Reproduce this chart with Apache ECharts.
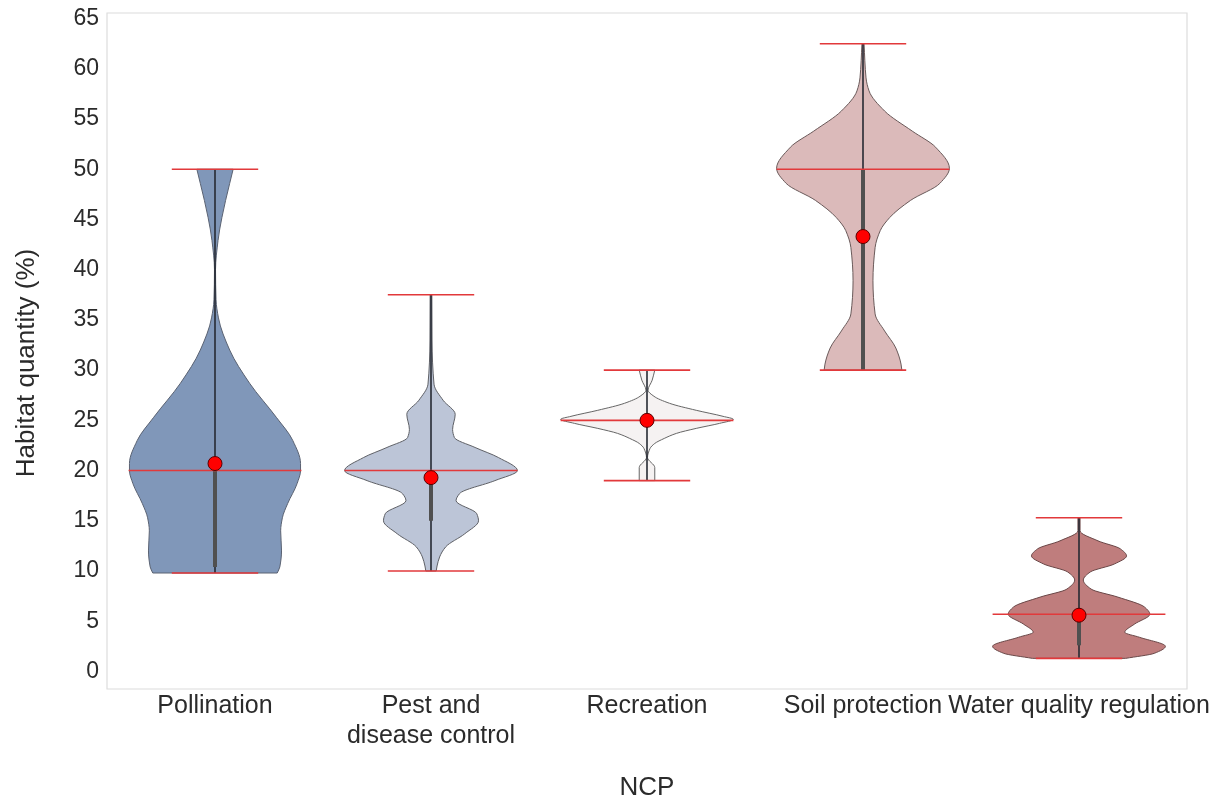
<!DOCTYPE html>
<html><head><meta charset="utf-8">
<script src="https://cdn.jsdelivr.net/npm/echarts@6/dist/echarts.min.js"></script>
<style>html,body{margin:0;padding:0;background:#fff}#c{width:1220px;height:800px}</style>
</head><body><div id="c"></div>
<script>
// ---- data ----
const categories = ['Pollination', 'Pest and\ndisease control', 'Recreation', 'Soil protection', 'Water quality regulation'];
const yTickLabels = [0, 5, 10, 15, 20, 25, 30, 35, 40, 45, 50, 55, 60, 65];

// density profiles: [value, relative half-width (1 = widest)]
const pollinationProfile = [[9.8,0.72],[10.4,0.75],[12,0.77],[14,0.76],[15.3,0.78],[16.7,0.84],[18.7,0.95],[20,0.99],[20.7,0.99],[23,0.9],[25.3,0.71],[28.7,0.4],[32,0.17],[35.2,0.04],[37,0.012],[40,0.006],[42.9,0.035],[45.2,0.08],[48.6,0.17],[50,0.21]];
const pestProfile = [[10,0.06],[10.5,0.07],[11.4,0.1],[12.4,0.17],[13.7,0.39],[15,0.55],[15.7,0.53],[17,0.29],[17.7,0.33],[19,0.74],[20,1.0],[21.3,0.78],[22.3,0.51],[23.3,0.27],[24.1,0.25],[25.6,0.28],[27,0.14],[28.6,0.035],[33,0.012],[37.5,0.01]];
const recreationProfile = [[19,0.09],[20.3,0.09],[21.3,0.006],[22.2,0.035],[22.7,0.09],[23.2,0.2],[23.7,0.34],[24.2,0.57],[24.7,0.84],[25.1,1.0],[25.4,0.88],[26,0.57],[26.7,0.26],[27.4,0.08],[28,0.012],[29,0.06],[30,0.09]];
const soilProfile = [[30,0.45],[30.6,0.44],[32.2,0.38],[33.9,0.25],[35.6,0.14],[38.9,0.115],[42.2,0.14],[43.9,0.2],[45.2,0.31],[46.9,0.55],[48.6,0.89],[50.1,1.0],[52.2,0.84],[53.8,0.57],[55.8,0.25],[57.8,0.07],[59.1,0.035],[62.5,0.012]];
const waterProfile = [[1.3,0.54],[1.8,0.87],[2.5,1.0],[3.4,0.7],[3.9,0.53],[4.7,0.64],[5.7,0.82],[6.4,0.76],[7.4,0.45],[8.2,0.14],[9.1,0.05],[9.9,0.13],[10.7,0.41],[11.5,0.55],[12.2,0.48],[13,0.22],[14,0.012],[15.3,0.012]];

const minValues    = [9.8, 10, 19, 30, 1.3];
const q1Values     = [10.4, 15, 25, 30, 2.6];
const medianValues = [20, 20, 25, 50, 5.7];
const q3Values     = [20, 20, 25, 50, 5.7];
const maxValues    = [50, 37.5, 30, 62.5, 15.3];
const meanValues   = [20.7, 19.3, 25, 43.3, 5.6];

// ---- styling ----
const profiles = [pollinationProfile, pestProfile, recreationProfile, soilProfile, waterProfile];
const fills = ['#8097b9', '#bcc5d7', '#f5f2f2', '#dbbaba', '#bf7d7d'];
const outlines = ['#5a6272', '#5e6066', '#666666', '#6a5a5a', '#6a4848'];
const FONT = "'Liberation Sans', Arial, sans-serif";

// monotone cubic (Fritsch-Carlson) bezier segments in (v,d) space
function monotoneSegments(pts) {
  const n = pts.length, h = [], s = [], m = new Array(n);
  for (let i = 0; i < n - 1; i++) { h[i] = pts[i+1][0] - pts[i][0]; s[i] = (pts[i+1][1] - pts[i][1]) / h[i]; }
  m[0] = s[0]; m[n-1] = s[n-2];
  for (let i = 1; i < n - 1; i++) {
    if (s[i-1] * s[i] <= 0) m[i] = 0;
    else { const w1 = 2*h[i] + h[i-1], w2 = h[i] + 2*h[i-1]; m[i] = (w1 + w2) / (w1 / s[i-1] + w2 / s[i]); }
  }
  const segs = [];
  for (let i = 0; i < n - 1; i++) {
    const a = pts[i], b = pts[i+1];
    segs.push([[a[0] + h[i]/3, Math.max(0, a[1] + m[i]*h[i]/3)], [b[0] - h[i]/3, Math.max(0, b[1] - m[i+1]*h[i]/3)], b]);
  }
  return segs;
}

function renderViolin(params, api) {
  const i = api.value(0);
  const band = api.size([1, 0])[0];
  const W = band * 0.4;
  const cx = api.coord([i, 0])[0];
  const Y = v => api.coord([i, v])[1];
  const prof = profiles[i];
  const segs = monotoneSegments(prof);
  const P = (side, v, d) => (cx + side * d * W).toFixed(2) + ' ' + Y(v).toFixed(2);
  let path = 'M ' + P(-1, prof[0][0], prof[0][1]);
  segs.forEach(sg => { path += ' C ' + P(-1, sg[0][0], sg[0][1]) + ' ' + P(-1, sg[1][0], sg[1][1]) + ' ' + P(-1, sg[2][0], sg[2][1]); });
  const last = prof[prof.length - 1];
  path += ' L ' + P(1, last[0], last[1]);
  for (let k = segs.length - 1; k >= 0; k--) {
    const sg = segs[k];
    const start = k === 0 ? prof[0] : segs[k-1][2];
    path += ' C ' + P(1, sg[1][0], sg[1][1]) + ' ' + P(1, sg[0][0], sg[0][1]) + ' ' + P(1, start[0], start[1]);
  }
  path += ' Z';
  const redLine = (v, half) => ({
    type: 'line', shape: { x1: cx - half, y1: Y(v), x2: cx + half, y2: Y(v) },
    style: { stroke: '#e2393b', lineWidth: 1.6 }
  });
  return {
    type: 'group',
    children: [
      { type: 'path', shape: { pathData: path }, style: { fill: fills[i], stroke: outlines[i], lineWidth: 1 } },
      { type: 'line', shape: { x1: cx, y1: Y(minValues[i]), x2: cx, y2: Y(maxValues[i]) }, style: { stroke: '#262a33', lineWidth: 1.6 } },
      { type: 'line', shape: { x1: cx, y1: Y(q1Values[i]), x2: cx, y2: Y(q3Values[i]) }, style: { stroke: '#505050', lineWidth: 4 } },
      redLine(maxValues[i], band * 0.2),
      redLine(minValues[i], band * 0.2),
      redLine(medianValues[i], band * 0.4)
    ]
  };
}

const chart = echarts.init(document.getElementById('c'), null, { renderer: 'canvas' });
chart.setOption({
  backgroundColor: '#ffffff',
  animation: false,
  grid: { left: 107, right: 33, top: 13, bottom: 111, show: true, borderColor: '#dcdcdc', borderWidth: 1.2,
          backgroundColor: 'transparent', containLabel: false, outerBoundsMode: 'none' },
  xAxis: {
    type: 'category', data: categories, boundaryGap: true,
    axisLine: { show: false }, axisTick: { show: false }, splitLine: { show: false },
    axisLabel: { interval: 0, color: '#2b2b2b', fontSize: 25, fontFamily: FONT, margin: 2, lineHeight: 30 },
    name: 'NCP', nameLocation: 'middle', nameGap: 86,
    nameTextStyle: { fontSize: 26, color: '#2b2b2b', fontFamily: FONT }
  },
  yAxis: {
    type: 'value', min: -1.75, max: 65.56, splitNumber: 13, minInterval: 5, maxInterval: 5,
    axisLine: { show: false }, axisTick: { show: false }, splitLine: { show: false },
    axisLabel: { color: '#2b2b2b', fontSize: 23, fontFamily: FONT, margin: 8,
      formatter: v => (yTickLabels.indexOf(Math.round(v * 1000) / 1000) >= 0 ? String(v) : '') },
    name: 'Habitat quantity (%)', nameLocation: 'middle', nameGap: 67,
    nameTextStyle: { fontSize: 26, color: '#2b2b2b', fontFamily: FONT, padding: [0, 24, 0, 0] }
  },
  series: [
    {
      type: 'custom', renderItem: renderViolin, z: 2,
      data: categories.map((c, i) => [i, minValues[i], maxValues[i]]),
      encode: { x: 0, y: [1, 2] }
    },
    {
      type: 'scatter', z: 5, symbol: 'circle', symbolSize: 14,
      itemStyle: { color: '#ff0000', borderColor: '#5a0000', borderWidth: 1, opacity: 1 },
      data: meanValues.map((m, i) => [i, m])
    }
  ]
});
</script>
</body></html>
